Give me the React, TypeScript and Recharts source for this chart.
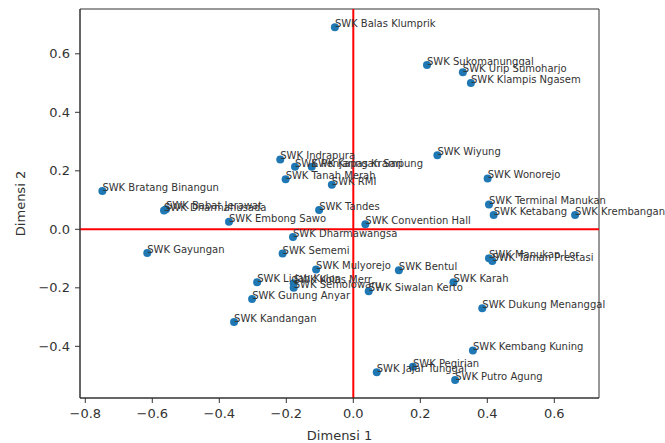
import {
  ReferenceArea,
  ReferenceLine,
  Scatter,
  ScatterChart,
  XAxis,
  YAxis,
} from "recharts";

const names = [
  "SWK Balas Klumprik",
  "SWK Sukomanunggal",
  "SWK Urip Sumoharjo",
  "SWK Klampis Ngasem",
  "SWK Indrapura",
  "SWK Penjaringan Sari",
  "SWK Kapas Krampung",
  "SWK Wiyung",
  "SWK Tanah Merah",
  "SWK RMI",
  "SWK Wonorejo",
  "SWK Bratang Binangun",
  "SWK Terminal Manukan",
  "SWK Babat Jerawat",
  "SWK Dharmahusada",
  "SWK Tandes",
  "SWK Ketabang",
  "SWK Krembangan",
  "SWK Embong Sawo",
  "SWK Convention Hall",
  "SWK Dharmawangsa",
  "SWK Gayungan",
  "SWK Sememi",
  "SWK Manukan Lor",
  "SWK Taman Prestasi",
  "SWK Mulyorejo",
  "SWK Bentul",
  "SWK Lidah Kulon",
  "SWK Kolas Merr",
  "SWK Semolowaru",
  "SWK Karah",
  "SWK Siwalan Kerto",
  "SWK Gunung Anyar",
  "SWK Dukung Menanggal",
  "SWK Kandangan",
  "SWK Kembang Kuning",
  "SWK Pegirian",
  "SWK Jajar Tunggal",
  "SWK Putro Agung",
];

const dim1 = [
  -0.055, 0.22, 0.327, 0.351, -0.218, -0.174, -0.124, 0.251, -0.202, -0.064,
  0.401, -0.749, 0.405, -0.559, -0.565, -0.102, 0.419, 0.662, -0.371, 0.036,
  -0.18, -0.615, -0.211, 0.405, 0.415, -0.111, 0.136, -0.287, -0.178, -0.178,
  0.299, 0.046, -0.302, 0.385, -0.356, 0.357, 0.178, 0.07, 0.304,
];

const dim2 = [
  0.691, 0.562, 0.537, 0.5, 0.239, 0.214, 0.214, 0.253, 0.171, 0.152, 0.174,
  0.131, 0.085, 0.069, 0.064, 0.066, 0.049, 0.049, 0.026, 0.017, -0.026,
  -0.081, -0.083, -0.099, -0.108, -0.137, -0.14, -0.181, -0.184, -0.2, -0.181,
  -0.212, -0.238, -0.27, -0.317, -0.414, -0.47, -0.489, -0.515,
];

const xTicks = [-0.8, -0.6, -0.4, -0.2, 0, 0.2, 0.4, 0.6];
const yTicks = [-0.4, -0.2, 0, 0.2, 0.4, 0.6];

const points = names.map((name, i) => ({ name, x: dim1[i], y: dim2[i] }));

const xDomain = [-0.8158, 0.7334];
const yDomain = [-0.5767, 0.7532];

const font = "DejaVu Sans, sans-serif";
const ink = "#333";

const fmt = (v: number) => (v < 0 ? "\u2212" : "") + Math.abs(v).toFixed(1);

function Dot(props: any) {
  return <circle cx={props.cx} cy={props.cy} r={4} fill="#1f77b4" />;
}

function Name(props: any) {
  return (
    <text
      x={props.cx}
      y={props.cy}
      fontSize={10}
      fill={ink}
      fontFamily={font}
    >
      {props.payload.name}
    </text>
  );
}

function YTitle(props: any) {
  const vb = props.viewBox;
  const cy = vb.y + vb.height / 2;
  return (
    <text
      transform={`translate(${vb.x - 5},${cy}) rotate(-90)`}
      textAnchor="middle"
      fontSize={13}
      fill={ink}
      fontFamily={font}
    >
      Dimensi 2
    </text>
  );
}

export default function App() {
  const tickStyle = { fontSize: 13, fill: ink, fontFamily: font };
  return (
    <div style={{ position: "absolute", left: 0, top: 0 }}>
      <ScatterChart
        width={665}
        height={443}
        margin={{ top: 9, right: 66, left: 30, bottom: 0 }}
      >
        <XAxis
          type="number"
          dataKey="x"
          domain={xDomain}
          ticks={xTicks}
          tickFormatter={fmt}
          height={45}
          tickSize={5}
          tickMargin={6}
          tick={tickStyle}
          stroke={ink}
          label={{
            value: "Dimensi 1",
            position: "insideBottom",
            offset: 3,
            fontSize: 13,
            fill: ink,
            fontFamily: font,
          }}
        />
        <YAxis
          type="number"
          dataKey="y"
          domain={yDomain}
          ticks={yTicks}
          tickFormatter={fmt}
          width={50}
          tickSize={5}
          tickMargin={5}
          tick={tickStyle}
          stroke={ink}
          label={{ content: YTitle }}
        />
        <ReferenceArea
          x1={xDomain[0]}
          x2={xDomain[1]}
          y1={yDomain[0]}
          y2={yDomain[1]}
          fill="none"
          stroke={ink}
          fillOpacity={0}
        />
        <Scatter data={points} shape={Dot} isAnimationActive={false} />
        <ReferenceLine x={0} stroke="red" strokeWidth={2} />
        <ReferenceLine y={0} stroke="red" strokeWidth={2} />
        <Scatter data={points} shape={Name} isAnimationActive={false} />
      </ScatterChart>
    </div>
  );
}
